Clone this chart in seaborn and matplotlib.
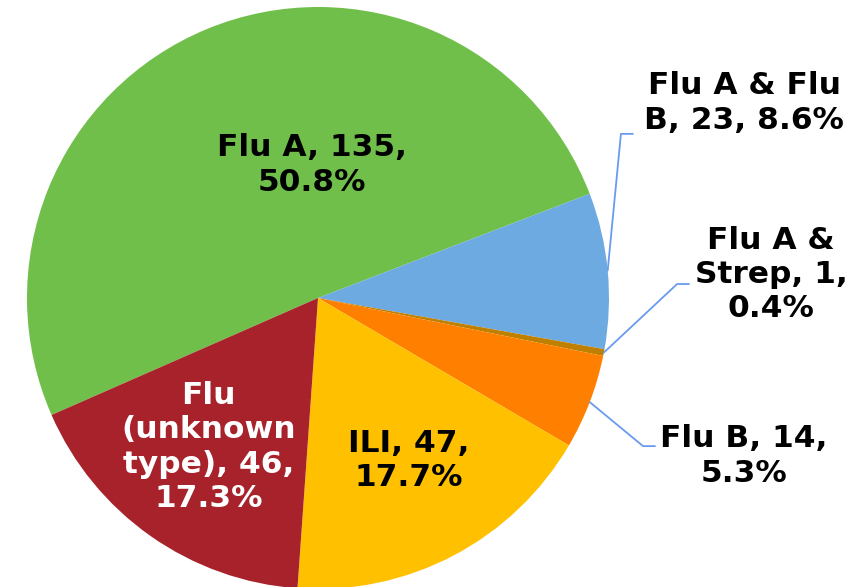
import numpy as np
import matplotlib
matplotlib.use("Agg")
import matplotlib.pyplot as plt
import seaborn as sns

categories = ["Flu A", "Flu A & Flu B", "Flu A & Strep", "Flu B", "ILI", "Flu (unknown type)"]
counts = [135, 23, 1, 14, 47, 46]
labels = [
    "Flu A, 135,\n50.8%",
    "Flu A & Flu\nB, 23, 8.6%",
    "Flu A &\nStrep, 1,\n0.4%",
    "Flu B, 14,\n5.3%",
    "ILI, 47,\n17.7%",
    "Flu\n(unknown\ntype), 46,\n17.3%",
]
colors = ["#70BF4A", "#6DAAE2", "#BF8000", "#FF8000", "#FFC000", "#A7222B"]

sns.set_theme(style="white")
plt.rcParams["font.family"] = ["DejaVu Sans"]

fig = plt.figure(figsize=(8.66, 5.87), dpi=100)
ax = fig.add_axes([0, 0, 1, 1])

wedges, _ = ax.pie(counts, colors=colors, startangle=203.7, counterclock=False,
                   radius=1, wedgeprops=dict(linewidth=0))

# label positions (inside for big slices, outside with leader lines for small)
text_pos = {
    0: (-0.020, 0.457),
    4: (0.313, -0.557),
    5: (-0.375, -0.512),
    1: (1.464, 0.670),
    2: (1.557, 0.082),
    3: (1.464, -0.543),
}
text_color = {5: "white"}
elbows = {1: (1.041, 0.564, 1.082), 2: (1.234, 0.048, 1.275), 3: (1.117, -0.509, 1.158)}

for i, w in enumerate(wedges):
    x, y = text_pos[i]
    ax.text(x, y, labels[i], ha="center", va="center", fontsize=22.5, fontweight="bold",
            color=text_color.get(i, "black"), linespacing=1.22)
    if i in elbows:
        mid = np.deg2rad((w.theta1 + w.theta2) / 2)
        ex, ey, hx = elbows[i]
        ax.plot([np.cos(mid), ex, hx], [np.sin(mid), ey, ey], color="#6A9AF0", lw=1.3)

ax.set_xlim(-318 / 291, (866 - 318) / 291)
ax.set_ylim(-(587 - 298) / 291, 298 / 291)
ax.set_aspect("equal")
ax.axis("off")

fig.savefig("out.png", dpi=100)
